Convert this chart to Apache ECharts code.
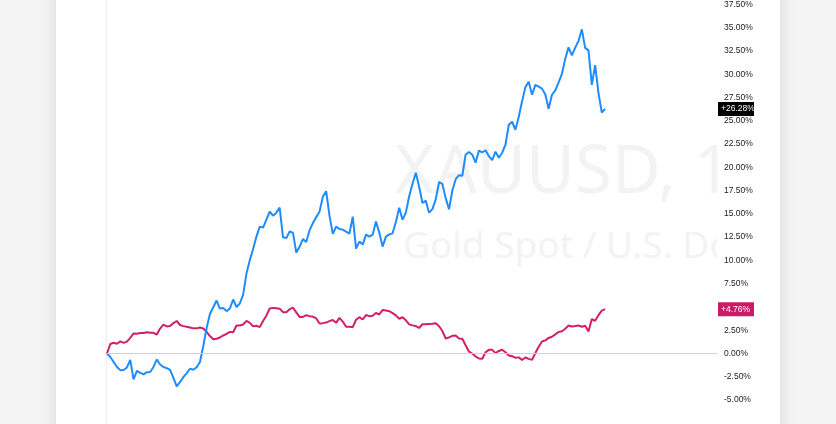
<!DOCTYPE html>
<html>
<head>
<meta charset="utf-8">
<script src="https://cdn.jsdelivr.net/npm/echarts/dist/echarts.min.js"></script>
<style>
  html, body { margin: 0; padding: 0; width: 836px; height: 424px; overflow: hidden; background: #f4f4f4; }
  #card { position: absolute; left: 56px; top: -20px; width: 724px; height: 470px; background: #fff;
          box-shadow: 0 0 16px rgba(0,0,0,0.12); }
  #sep { position: absolute; left: 106px; top: 0; width: 1px; height: 424px; background: #f0f0f0; }
  #wm { position: absolute; left: 107px; top: 0; width: 610px; height: 424px; overflow: hidden; }
  .wm { position: absolute; white-space: nowrap; font-family: "Noto Sans", sans-serif; color: #f3f3f3; line-height: 1; }
  #wm1 { left: 288px; top: 134px; font-size: 67px; }
  #wm2 { left: 296px; top: 225px; font-size: 37px; }
  #chart { position: absolute; left: 0; top: 0; width: 836px; height: 424px; }
</style>
</head>
<body>
<div id="card"></div>
<div id="sep"></div>
<div id="wm">
  <div class="wm" id="wm1">XAUUSD, 1D</div>
  <div class="wm" id="wm2">Gold Spot / U.S. Dollar</div>
</div>
<div id="chart"></div>
<script>
// percent change since start
const goldPct = [
  0, -0.38, -0.91, -1.45, -1.79, -1.77, -1.50, -0.68, -2.79, -1.88,
  -2.09, -2.25, -2.01, -1.99, -1.45, -0.64, -1.18, -1.45, -1.57, -1.77,
  -2.63, -3.54, -3.06, -2.54, -2.11, -1.64, -1.75, -1.48, -0.91, 0.80,
  2.74, 4.24, 4.96, 5.69, 4.83, 4.88, 4.55, 4.83, 5.80, 4.99,
  5.37, 6.33, 8.59, 10.03, 11.22, 12.56, 13.63, 13.52, 14.38, 15.24,
  14.81, 15.13, 15.67, 12.48, 12.40, 13.11, 12.99, 10.84, 11.48, 12.29,
  11.97, 13.25, 14.01, 14.65, 15.24, 16.85, 17.44, 14.81, 12.85, 13.63,
  13.38, 13.31, 13.09, 12.88, 14.70, 11.27, 12.02, 11.70, 12.77, 12.56,
  12.77, 14.17, 12.99, 11.48, 12.56, 12.79, 12.91, 14.13, 15.67, 14.38,
  15.13, 16.90, 18.24, 19.42, 17.92, 16.17, 16.42, 15.13, 15.51, 16.56,
  18.43, 18.21, 16.69, 15.49, 17.51, 18.73, 19.16, 19.10, 21.36, 21.66,
  21.36, 20.50, 21.81, 21.62, 21.84, 21.20, 20.77, 21.68, 21.03, 21.57,
  22.43, 24.58, 24.90, 24.04, 25.43, 27.10, 28.62, 29.21, 27.80, 28.87,
  28.68, 28.46, 27.83, 26.29, 27.80, 28.27, 29.14, 30.05, 31.66, 32.89,
  32.04, 32.87, 33.59, 34.83, 32.84, 32.57, 28.87, 30.98, 28.01, 25.90,
  26.28
];
const dxyPct = [
  0, 1.02, 1.15, 1.05, 1.30, 1.14, 1.28, 1.68, 2.15, 2.12,
  2.19, 2.20, 2.29, 2.22, 2.22, 2.04, 2.68, 3.11, 2.90, 2.95,
  3.27, 3.49, 3.06, 2.94, 2.87, 2.79, 2.70, 2.70, 2.79, 2.68,
  2.33, 1.87, 1.52, 1.58, 1.72, 1.93, 2.11, 2.32, 2.28, 3.00,
  3.00, 3.11, 3.50, 3.29, 2.91, 2.98, 2.83, 3.49, 4.06, 4.83,
  4.90, 4.85, 4.80, 4.44, 4.42, 4.74, 4.94, 4.42, 3.93, 3.93,
  4.11, 4.01, 3.97, 3.76, 3.22, 3.26, 3.32, 3.48, 3.60, 3.29,
  3.82, 3.43, 2.88, 2.88, 2.83, 3.62, 3.90, 3.65, 4.13, 4.01,
  4.06, 4.35, 4.19, 4.68, 4.61, 4.54, 4.34, 4.09, 3.73, 3.89,
  3.56, 3.13, 3.02, 2.95, 2.74, 3.14, 3.13, 3.17, 3.19, 3.24,
  2.93, 2.41, 1.61, 1.72, 1.90, 1.93, 1.61, 1.59, 0.89, 0.21,
  -0.01, -0.32, -0.54, -0.56, 0.13, 0.39, 0.39, 0.04, 0.27, 0.40,
  0.13, -0.21, -0.29, -0.46, -0.42, -0.70, -0.43, -0.58, -0.69, 0.05,
  0.72, 1.29, 1.41, 1.67, 1.79, 2.05, 2.31, 2.39, 2.65, 3.00,
  2.90, 2.95, 3.00, 2.87, 2.98, 2.36, 3.70, 3.51, 4.12, 4.61,
  4.76
];
const yMin = -5, yMax = 37.5, yStep = 2.5;
const goldColor = '#1e8cff';
const dxyColor = '#d21f6a';
const axisFont = 'Liberation Sans, Arial, sans-serif';

const chart = echarts.init(document.getElementById('chart'));

function toPairs(arr) {
  return arr.map((v, i) => [i, v]);
}
function lastLabel(val, bg) {
  return {
    yAxis: val,
    lineStyle: { color: 'rgba(0,0,0,0)', width: 0 },
    label: {
      show: true,
      position: 'end',
      distance: 1,
      formatter: '+' + val.toFixed(2) + '%',
      color: '#fff',
      backgroundColor: bg,
      fontSize: 8.5,
      fontFamily: axisFont,
      width: 30,
      padding: [3, 3, 2, 3]
    }
  };
}

const option = {
  animation: false,
  grid: { left: 107, right: 119, top: 4, bottom: 24 },
  xAxis: {
    type: 'value',
    min: 0,
    max: 183.7,
    show: false
  },
  yAxis: {
    type: 'value',
    position: 'right',
    min: yMin,
    max: yMax,
    interval: yStep,
    splitLine: { show: false },
    axisLine: { show: false },
    axisTick: { show: false },
    axisLabel: {
      margin: 7,
      fontSize: 8.5,
      fontFamily: axisFont,
      color: '#222',
      formatter: v => v.toFixed(2) + '%'
    }
  },
  series: [
    {
      name: 'DXY',
      type: 'line',
      data: toPairs(dxyPct),
      showSymbol: false,
      lineStyle: { color: dxyColor, width: 2 },
      itemStyle: { color: dxyColor },
      markLine: {
        silent: true,
        symbol: 'none',
        data: [
          { yAxis: 0, lineStyle: { color: '#cfcfd6', width: 1, type: 'solid' }, label: { show: false } },
          lastLabel(dxyPct[dxyPct.length - 1], '#cc1a68')
        ]
      }
    },
    {
      name: 'XAUUSD',
      type: 'line',
      data: toPairs(goldPct),
      showSymbol: false,
      lineStyle: { color: goldColor, width: 2 },
      itemStyle: { color: goldColor },
      markLine: {
        silent: true,
        symbol: 'none',
        data: [lastLabel(goldPct[goldPct.length - 1], '#000')]
      }
    }
  ]
};
chart.setOption(option);
</script>
</body>
</html>
